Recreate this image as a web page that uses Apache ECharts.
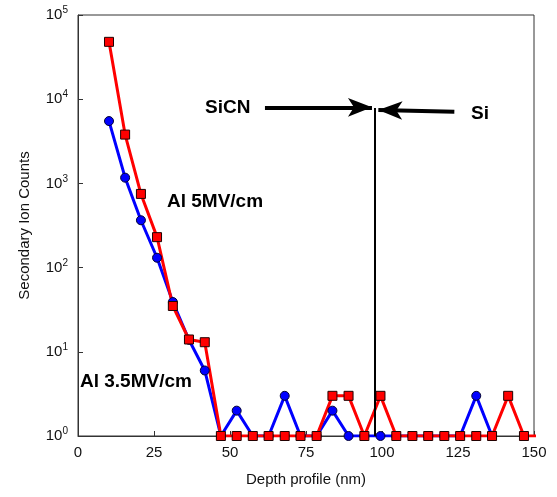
<!DOCTYPE html>
<html>
<head>
<meta charset="utf-8">
<script src="https://cdn.jsdelivr.net/npm/echarts@6/dist/echarts.min.js"></script>
<style>
  html, body { margin: 0; padding: 0; background: #fff; }
  #main { width: 557px; height: 497px; }
</style>
</head>
<body>
<div id="main"></div>
<script>
// depth (nm) of each sputter step
const depth = [10.2, 15.5, 20.7, 26.0, 31.2, 36.5, 41.7, 47.0, 52.2, 57.5, 62.7, 68.0, 73.2, 78.5,
  83.7, 89.0, 94.2, 99.5, 104.7, 110.0, 115.2, 120.5, 125.7, 131.0, 136.2, 141.5, 146.7, 152.0];
// Al 3.5MV/cm (blue)
const blueCounts = [5500, 1170, 365, 131, 39, 13.9, 6, 1, 2, 1, 1, 3, 1, 1,
  2, 1, 1, 1, 1, 1, 1, 1, 1, 3, 1];
// Al 5MV/cm (red)
const redCounts = [48000, 3800, 750, 230, 35, 14, 13, 1, 1, 1, 1, 1, 1, 1,
  3, 3, 1, 3, 1, 1, 1, 1, 1, 1, 1, 3, 1, 1];
const xTicks = [0, 25, 50, 75, 100, 125, 150];

const chart = echarts.init(document.getElementById("main"));

const pairs = (vals) => vals.map((v, i) => [depth[i], v]);
const font = "'Liberation Sans', Arial, sans-serif";

const option = {
  animation: false,
  grid: {
    left: 78, right: 23, top: 15, bottom: 61,
    show: true, borderColor: "#333", borderWidth: 1
  },
  xAxis: {
    type: "value",
    min: 0, max: 150, interval: 25,
    name: "Depth profile (nm)",
    nameLocation: "middle",
    nameGap: 36,
    nameTextStyle: { fontFamily: font, fontSize: 15, color: "#111" },
    axisLine: { lineStyle: { color: "#333", width: 1 } },
    axisTick: { inside: true, length: 5, lineStyle: { color: "#333" } },
    axisLabel: {
      fontFamily: font, fontSize: 15, color: "#111", margin: 9,
      formatter: (v) => xTicks.includes(v) ? String(v) : ""
    },
    splitLine: { show: false }
  },
  yAxis: {
    type: "log",
    logBase: 10,
    min: 1, max: 100000,
    name: "Secondary Ion Counts",
    nameLocation: "middle",
    nameGap: 46,
    nameTextStyle: { fontFamily: font, fontSize: 15, color: "#111" },
    axisLine: { lineStyle: { color: "#333", width: 1 } },
    axisTick: { inside: true, length: 5, lineStyle: { color: "#333" } },
    axisLabel: {
      fontFamily: font, color: "#111", margin: 10,
      formatter: (v) => "{b|10}{s|" + Math.round(Math.log10(v)) + "}",
      rich: {
        b: { fontFamily: font, fontSize: 15, color: "#111" },
        s: { fontFamily: font, fontSize: 10, color: "#111", verticalAlign: "top", padding: [0, 0, 9, 0] }
      }
    },
    splitLine: { show: false }
  },
  series: [
    {
      name: "Al 3.5MV/cm",
      type: "line",
      data: pairs(blueCounts),
      symbol: "circle",
      symbolSize: 9,
      lineStyle: { color: "#0000ff", width: 3 },
      itemStyle: { color: "#0000ff", borderColor: "#000033", borderWidth: 1 }
    },
    {
      name: "Al 5MV/cm",
      type: "line",
      data: pairs(redCounts),
      symbol: "rect",
      symbolSize: 9,
      clip: true,
      lineStyle: { color: "#ff0000", width: 3 },
      itemStyle: { color: "#ff0000", borderColor: "#220000", borderWidth: 1 },
      markLine: {
        silent: true,
        label: { show: false },
        data: [
          // SiCN / Si interface
          [
            { coord: [97.5, 7860], symbol: "none", lineStyle: { color: "#000", width: 2, type: "solid" } },
            { coord: [97.5, 1], symbol: "none" }
          ],
          [
            { coord: [61.5, 8000], symbol: "none", lineStyle: { color: "#000", width: 4, type: "solid" } },
            { coord: [96.7, 8000], symbol: "arrow", symbolSize: [14, 24] }
          ],
          [
            { coord: [123.8, 7100], symbol: "none", lineStyle: { color: "#000", width: 4, type: "solid" } },
            { coord: [98.8, 7450], symbol: "arrow", symbolSize: [14, 24] }
          ]
        ]
      }
    }
  ],
  graphic: [
    { type: "text", left: 205, top: 98, style: { text: "SiCN", font: "bold 19px " + font, fill: "#000" } },
    { type: "text", left: 471, top: 104, style: { text: "Si", font: "bold 19px " + font, fill: "#000" } },
    { type: "text", left: 167, top: 192, style: { text: "Al 5MV/cm", font: "bold 19px " + font, fill: "#000" } },
    { type: "text", left: 80, top: 372, style: { text: "Al 3.5MV/cm", font: "bold 19px " + font, fill: "#000" } }
  ]
};

chart.setOption(option);
</script>
</body>
</html>
